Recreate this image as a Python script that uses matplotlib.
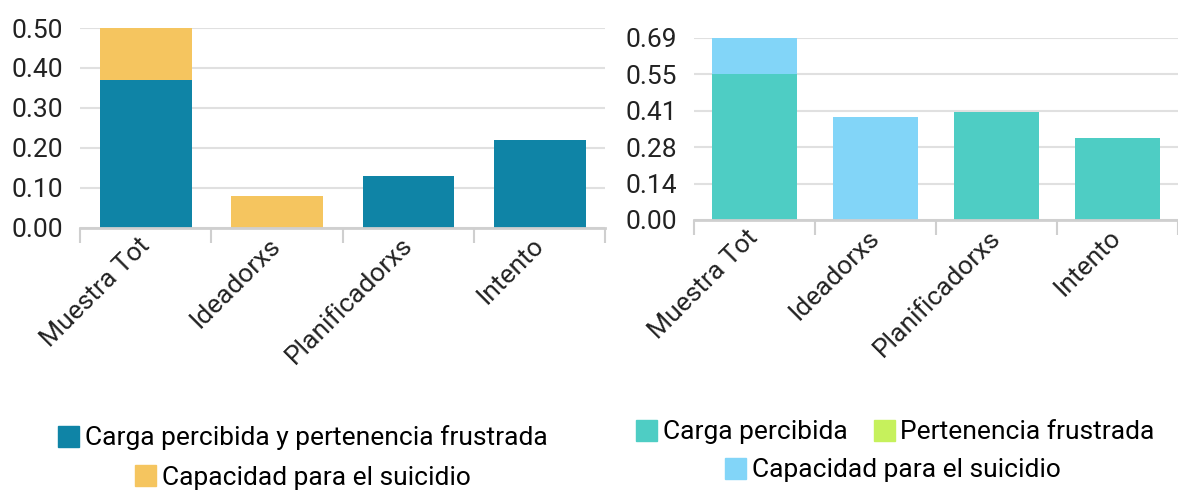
import matplotlib.pyplot as plt
from matplotlib.patches import Patch
import numpy as np

plt.rcParams['font.family'] = ['Roboto', 'DejaVu Sans']

categorias = ['Muestra Tot', 'Ideadorxs', 'Planificadorxs', 'Intento']

# panel izquierdo
carga_pertenencia = [0.37, 0.0, 0.13, 0.22]
capacidad_izq = [0.13, 0.08, 0.0, 0.0]
ticks_izq = [0.0, 0.10, 0.20, 0.30, 0.40, 0.50]

# panel derecho
carga_percibida = [0.55, 0.0, 0.406, 0.308]
pertenencia_frustrada = [0.0, 0.0, 0.0, 0.0]
capacidad_der = [0.1375, 0.387, 0.0, 0.0]
ticks_der = [0.0, 0.1375, 0.275, 0.4125, 0.55, 0.6875]

c_teal = '#0f84a6'
c_amarillo = '#f5c55f'
c_turq = '#4ecdc4'
c_verde = '#c6f15c'
c_azul = '#82d5f8'
c_grid = '#e0e0e0'
c_eje = '#cfcfcf'

fig = plt.figure(figsize=(11.78, 4.92), dpi=100)
ax1 = fig.add_axes([0.068, 0.537, 0.446, 0.406])
ax2 = fig.add_axes([0.589, 0.553, 0.411, 0.37])

x = np.arange(len(categorias))


def estilo(ax, ticks, etiquetas):
    ax.set_xlim(-0.5, 3.5)
    ax.set_ylim(0, ticks[-1])
    ax.set_yticks(ticks)
    ax.set_yticklabels(etiquetas, fontsize=19, color='#222222')
    ax.set_xticks(x)
    ax.set_xticklabels(categorias, fontsize=19, rotation=45, ha='right',
                       va='center', rotation_mode='anchor', color='#222222')
    ax.set_xticks([-0.5, 0.5, 1.5, 2.5, 3.5], minor=True)
    ax.tick_params(axis='x', which='major', length=0, pad=10)
    ax.tick_params(axis='x', which='minor', length=11, width=1.5, color=c_eje)
    ax.tick_params(axis='y', length=0, pad=12)
    for s in ['top', 'right', 'left']:
        ax.spines[s].set_visible(False)
    ax.spines['bottom'].set_color(c_eje)
    ax.spines['bottom'].set_linewidth(2)
    ax.grid(axis='y', color=c_grid, linewidth=1.5)
    ax.set_axisbelow(True)
    ax.spines['bottom'].set_zorder(5)


ax1.bar(x, carga_pertenencia, 0.7, color=c_teal)
ax1.bar(x, capacidad_izq, 0.7, bottom=carga_pertenencia, color=c_amarillo)
estilo(ax1, ticks_izq, ['%.2f' % t for t in ticks_izq])

ax2.bar(x, carga_percibida, 0.7, color=c_turq)
ax2.bar(x, pertenencia_frustrada, 0.7, bottom=carga_percibida, color=c_verde)
base = np.array(carga_percibida) + np.array(pertenencia_frustrada)
ax2.bar(x, capacidad_der, 0.7, bottom=base, color=c_azul)
estilo(ax2, ticks_der, ['%.2f' % t for t in ticks_der])

kw = dict(frameon=False, fontsize=19, handlelength=0.8, handleheight=0.85,
          handletextpad=0.2, columnspacing=1.0, borderpad=0)

fig.legend(handles=[Patch(color=c_teal, label='Carga percibida y pertenencia frustrada')],
           loc='center', bbox_to_anchor=(0.257, 0.110), **kw)
fig.legend(handles=[Patch(color=c_amarillo, label='Capacidad para el suicidio')],
           loc='center', bbox_to_anchor=(0.257, 0.030), **kw)
fig.legend(handles=[Patch(color=c_turq, label='Carga percibida'),
                    Patch(color=c_verde, label='Pertenencia frustrada')],
           loc='center', bbox_to_anchor=(0.760, 0.122), ncol=2, **kw)
fig.legend(handles=[Patch(color=c_azul, label='Capacidad para el suicidio')],
           loc='center', bbox_to_anchor=(0.758, 0.045), **kw)

fig.savefig('out.png', dpi=100, facecolor='white')
